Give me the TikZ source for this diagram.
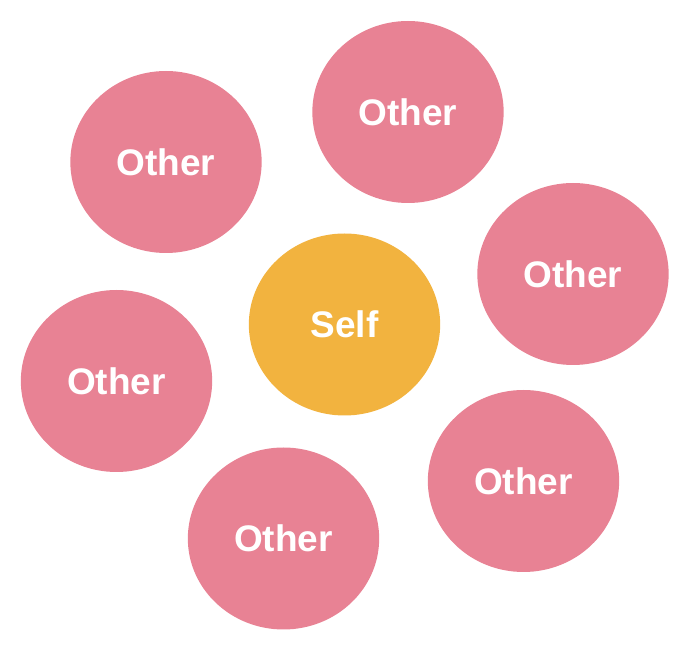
\documentclass[tikz,border=0pt]{standalone}
\usepackage{fontspec}
\setmainfont{Liberation Sans}
\usetikzlibrary{shapes.geometric}
\definecolor{otherpink}{RGB}{232,130,148}
\definecolor{selforange}{RGB}{242,179,63}
\tikzset{
  blob/.style={ellipse, draw=none, minimum width=143.5pt, minimum height=136.5pt, inner sep=0pt, text=white, font=\fontsize{27.75}{30}\selectfont\bfseries},
  other/.style={blob, fill=otherpink},
  self/.style={blob, fill=selforange}
}
\begin{document}
\begin{tikzpicture}[x=0.75pt,y=0.75pt,yscale=-1,xscale=1]
\useasboundingbox (0,0) rectangle (694,652);

% Self in the middle
\node [self] (self) at (344.5,324.5) {Self};

% Others around it
\node [other] (othertop) at (408,112) {Other};
\node [other] (otherupleft) at (166,162) {Other};
\node [other] (otherright) at (573,274) {Other};
\node [other] (otherleft) at (116.5,381) {Other};
\node [other] (otherlowright) at (523.5,481) {Other};
\node [other] (otherbottom) at (283.5,538.5) {Other};

\end{tikzpicture}
\end{document}
